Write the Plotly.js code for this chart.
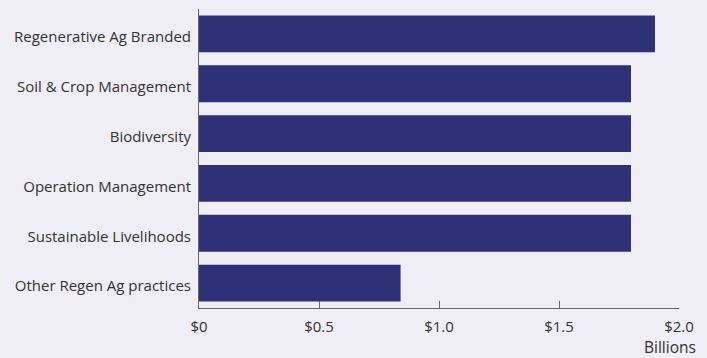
<!DOCTYPE html>
<html><head><meta charset="utf-8">
<script src="https://cdn.plot.ly/plotly-3.0.1.min.js"></script>
<style>html,body{margin:0;padding:0;background:#EFEEF4;}</style>
</head><body>
<div id="chart" style="width:707px;height:358px;"></div>
<script>
const categories = ["Regenerative Ag Branded","Soil & Crop Management","Biodiversity","Operation Management","Sustainable Livelihoods","Other Regen Ag practices"];
const values = [1.9, 1.8, 1.8, 1.8, 1.8, 0.84];
const tickVals = [0, 0.5, 1.0, 1.5, 2.0];
const tickText = ["$0","$0.5","$1.0","$1.5","$2.0"];
const unitLabel = "Billions";

const font = {family: "'Open Sans', sans-serif", size: 15, color: "#333333"};
Plotly.newPlot("chart", [{
  type: "bar", orientation: "h",
  x: values, y: categories,
  marker: {color: "#2E3176"},
  hoverinfo: "none"
}], {
  width: 707, height: 358,
  paper_bgcolor: "#EFEEF4", plot_bgcolor: "#EFEEF4",
  margin: {l: 199, r: 28, t: 8.5, b: 49.5},
  bargap: 0.26,
  font: font,
  showlegend: false,
  xaxis: {range: [0, 2.0], tickvals: tickVals, ticktext: tickText, showgrid: false, zeroline: false,
    showline: true, linecolor: "#666666", linewidth: 1, ticks: "inside", ticklen: 7, tickcolor: "#666666",
    ticklabelstandoff: 5, fixedrange: true},
  yaxis: {autorange: "reversed", showgrid: false, zeroline: false, showline: true, linecolor: "#666666",
    linewidth: 1, ticks: "", ticklabelstandoff: 4, ticklabelshift: -3, fixedrange: true},
  annotations: [{text: unitLabel, xref: "paper", yref: "paper", x: 1.04, y: -0.132,
    xanchor: "right", yanchor: "middle", showarrow: false, font: {family: font.family, size: 15.5, color: "#333333"}}]
}, {displayModeBar: false, staticPlot: true});
</script>
</body></html>
